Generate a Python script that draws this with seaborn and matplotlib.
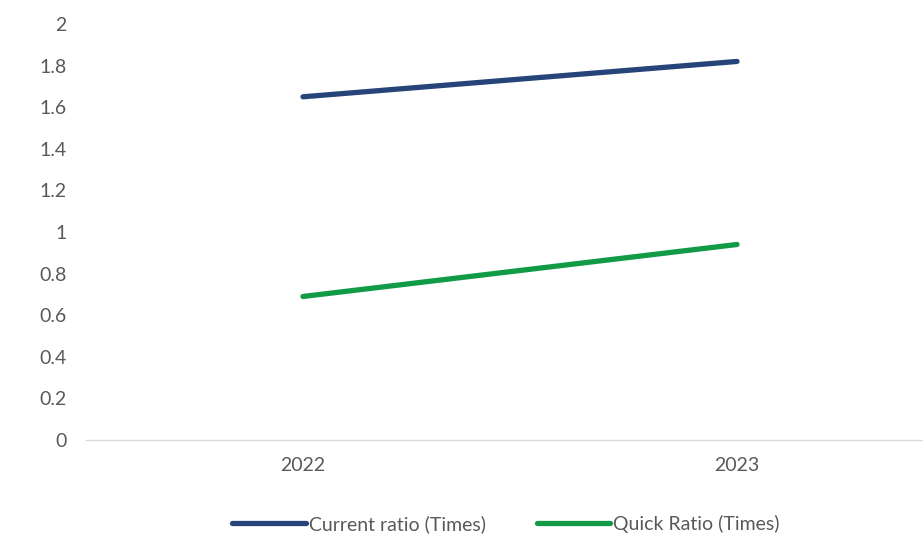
import pandas as pd
import matplotlib.pyplot as plt
import seaborn as sns

years = ["2022", "2023"]
current_ratio = [1.65, 1.82]
quick_ratio = [0.69, 0.94]
series_names = ["Current ratio (Times)", "Quick Ratio (Times)"]
colors = ["#264478", "#119B47"]

df = pd.DataFrame({
    "year": years * 2,
    "value": current_ratio + quick_ratio,
    "series": [series_names[0]] * 2 + [series_names[1]] * 2,
})

sns.set_style("white")
plt.rcParams["font.family"] = ["Lato", "DejaVu Sans"]

fig = plt.figure(figsize=(9.23, 5.38), dpi=100)
ax = fig.add_axes([86 / 923, 98 / 538, 868 / 923, 416 / 538])

sns.lineplot(data=df, x="year", y="value", hue="series", palette=colors,
             linewidth=3.8, solid_capstyle="round", ax=ax, legend=False)

ax.set_xlim(-0.5, 1.5)
ax.set_ylim(0, 2)
ax.set_yticks([0, 0.2, 0.4, 0.6, 0.8, 1, 1.2, 1.4, 1.6, 1.8, 2])
ax.set_yticklabels(["0", "0.2", "0.4", "0.6", "0.8", "1", "1.2", "1.4", "1.6", "1.8", "2"])
ax.set_xlabel("")
ax.set_ylabel("")
for side in ["top", "right", "left"]:
    ax.spines[side].set_visible(False)
ax.spines["bottom"].set_color("#D9D9D9")
ax.spines["bottom"].set_linewidth(1)
ax.tick_params(axis="both", length=0, labelsize=14, colors="#595959")
ax.tick_params(axis="y", pad=14)
ax.tick_params(axis="x", pad=12)

handles = [plt.Line2D([], [], color=c, linewidth=3.8, solid_capstyle="round") for c in colors]
fig.legend(handles, series_names, loc="center", bbox_to_anchor=(506 / 923, 1 - 524 / 538),
           ncol=2, frameon=False, fontsize=14, handlelength=3.8, handletextpad=0.15,
           columnspacing=2.6, labelcolor="#595959")

plt.savefig("out.png", dpi=100)
plt.close()
